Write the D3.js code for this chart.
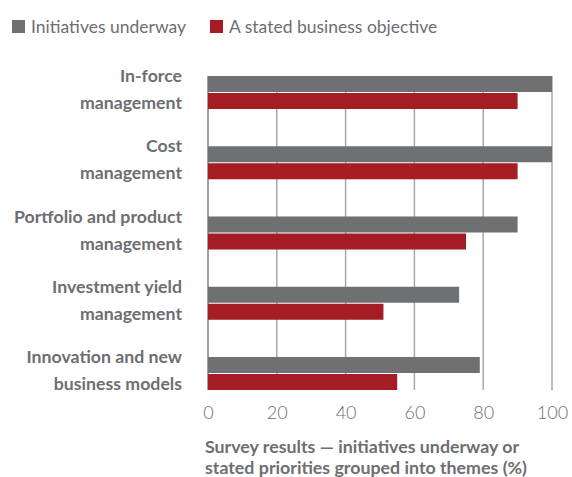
<!DOCTYPE html>
<html><head><meta charset="utf-8">
<script src="https://cdn.jsdelivr.net/npm/d3@7"></script>
<style>body{margin:0;background:#fff}svg{display:block}</style>
</head><body>
<svg id="c" width="572" height="477"></svg>
<script>
const categories = [
  ["In-force", "management"],
  ["Cost", "management"],
  ["Portfolio and product", "management"],
  ["Investment yield", "management"],
  ["Innovation and new", "business models"]
];
const seriesNames = ["Initiatives underway", "A stated business objective"];
const initiativesUnderway = [100, 100, 90, 73, 79];
const statedObjective = [90, 90, 75, 51, 55];
const tickValues = [0, 20, 40, 60, 80, 100];
const axisTitle = ["Survey results \u2014 initiatives underway or", "stated priorities grouped into themes (%)"];

const colors = ["#6f7072", "#a51d24"];
const textColor = "#6d6e71";
const font = "Lato, 'Open Sans', sans-serif";

const svg = d3.select("#c");
const keys = categories.map(c => c.join(" "));
const x = d3.scaleLinear().domain([0, 100]).range([208, 552]);
const y = d3.scaleBand().domain(keys).range([76, 390]).paddingInner(0.53).paddingOuter(0);
const barH = (y.bandwidth() - 1) / 2;

// gridlines
svg.append("g").selectAll("line").data(tickValues.slice(1)).join("line")
  .attr("x1", d => x(d)).attr("x2", d => x(d))
  .attr("y1", 76).attr("y2", 390)
  .attr("stroke", "#a7a8aa").attr("stroke-width", 1.5);
svg.append("line").attr("x1", x(0)).attr("x2", x(0)).attr("y1", 76).attr("y2", 390)
  .attr("stroke", "#808184").attr("stroke-width", 1.5);

// bars
const series = [initiativesUnderway, statedObjective];
series.forEach((vals, si) => {
  svg.append("g").selectAll("rect").data(vals).join("rect")
    .attr("x", x(0))
    .attr("y", (d, i) => y(keys[i]) + si * (barH + 1))
    .attr("width", d => x(d) - x(0))
    .attr("height", barH)
    .attr("fill", colors[si]);
});

// category labels
const lab = svg.append("g").attr("font-family", font).attr("font-weight", 700)
  .attr("font-size", 17.7).attr("fill", textColor).attr("text-anchor", "end");
categories.forEach((c, i) => {
  const cy = y(keys[i]) + y.bandwidth() / 2 - 3;
  lab.append("text").attr("x", 182).attr("y", cy - 13.5).attr("dy", "0.35em").text(c[0]);
  lab.append("text").attr("x", 182).attr("y", cy + 13.5).attr("dy", "0.35em").text(c[1]);
});

// x axis
const xAxis = d3.axisBottom(x).tickValues(tickValues).tickSize(0).tickPadding(0).tickFormat(d3.format("d"));
const ax = svg.append("g").attr("transform", "translate(0,404)").call(xAxis);
ax.select(".domain").remove();
ax.selectAll("text").attr("font-family", font).attr("font-weight", 300)
  .attr("font-size", 18).attr("fill", textColor).attr("dy", "0.85em");

// axis title
const at = svg.append("g").attr("font-family", font).attr("font-weight", 700)
  .attr("font-size", 17.8).attr("fill", textColor);
axisTitle.forEach((t, i) => {
  at.append("text").attr("x", 205).attr("y", 447 + i * 21).attr("dy", "0.35em").text(t);
});

// legend
const lg = svg.append("g").attr("font-family", font).attr("font-size", 17.5).attr("fill", textColor);
const legX = [12, 210];
seriesNames.forEach((n, i) => {
  lg.append("rect").attr("x", legX[i]).attr("y", 20).attr("width", 13).attr("height", 13).attr("fill", colors[i]);
  lg.append("text").attr("x", legX[i] + 19).attr("y", 33).text(n);
});
</script>
</body></html>
